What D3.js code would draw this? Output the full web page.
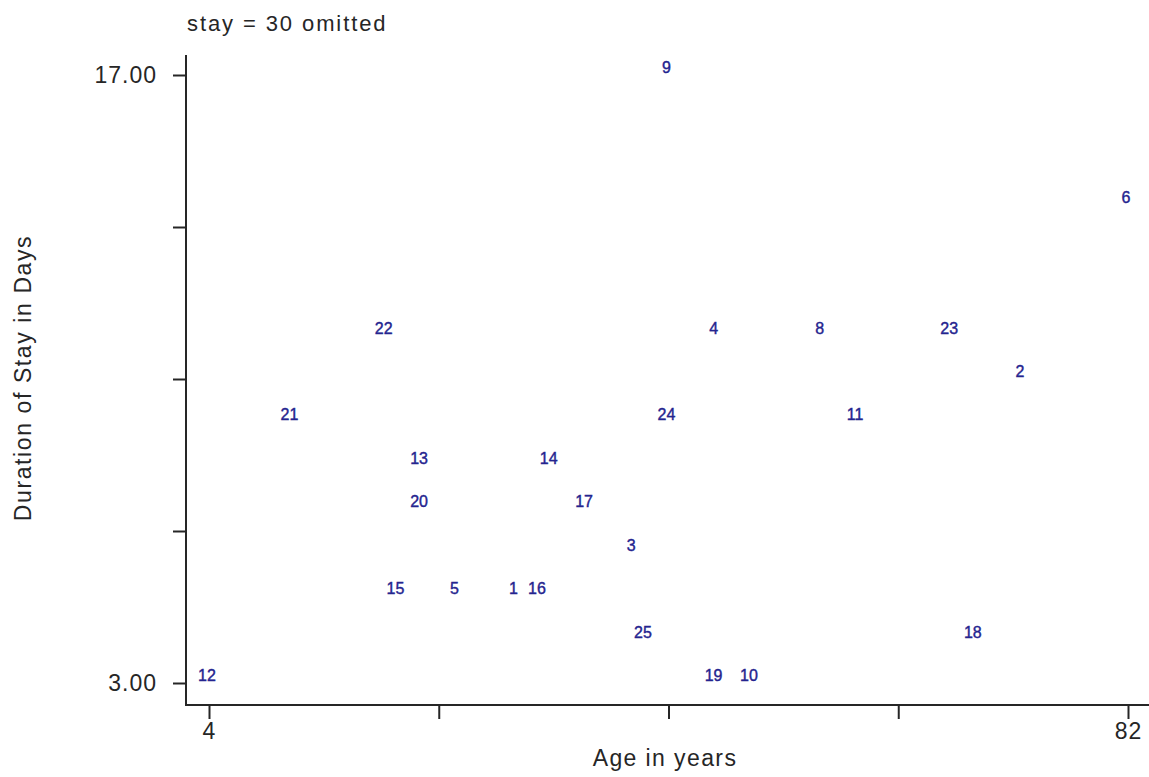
<!DOCTYPE html>
<html>
<head>
<meta charset="utf-8">
<script src="https://cdn.jsdelivr.net/npm/d3@7"></script>
<style>
  body { margin: 0; background: #fff; }
  text { font-family: "Liberation Sans", Arial, sans-serif; }
</style>
</head>
<body>
<div id="chart"></div>
<script>
// hospital data, id labels plotted at (age, stay)
var ids   = [1, 2, 3, 4, 5, 6, 8, 9, 10, 11, 12, 13, 14, 15, 16, 17, 18, 19, 20, 21, 22, 23, 24, 25];
var ages  = [30, 73, 40, 47, 25, 82, 56, 43, 50, 59, 4, 22, 33, 20, 32, 36, 69, 47, 22, 11, 19, 67, 43, 41];
var stays = [5, 10, 6, 11, 5, 14, 11, 17, 3, 9, 3, 8, 8, 5, 5, 7, 4, 3, 7, 9, 11, 11, 9, 4];

var xTicks = [4, 23.5, 43, 62.5, 82];
var yTicks = [3, 6.5, 10, 13.5, 17];
var xTickLabels = {4: "4", 82: "82"};
var yTickLabels = {3: "3.00", 17: "17.00"};

var W = 1149, H = 777;
var axisColor = "#262626";
var labelColor = "#24248f";

var svg = d3.select("#chart").append("svg")
    .attr("width", W)
    .attr("height", H);

var x = d3.scaleLinear().domain([4, 82]).range([209, 1128]);
var y = d3.scaleLinear().domain([3, 17]).range([683, 75]);

var axisX = 186, axisY = 705;

// axis lines (extend past the data range like the original)
svg.append("line")
    .attr("x1", axisX).attr("x2", axisX)
    .attr("y1", 55).attr("y2", axisY)
    .attr("stroke", axisColor).attr("stroke-width", 2);
svg.append("line")
    .attr("x1", axisX - 1).attr("x2", W)
    .attr("y1", axisY).attr("y2", axisY)
    .attr("stroke", axisColor).attr("stroke-width", 2);

var gx = svg.append("g")
    .attr("transform", "translate(0," + axisY + ")")
    .call(d3.axisBottom(x).tickValues(xTicks).tickSize(14).tickPadding(0)
        .tickFormat(function(d) { return xTickLabels[d] || ""; }));
gx.select(".domain").remove();
gx.selectAll(".tick line").attr("stroke", axisColor).attr("stroke-width", 2);
gx.selectAll(".tick text")
    .attr("fill", axisColor)
    .attr("font-size", 23)
    .attr("letter-spacing", 1)
    .attr("font-family", "Liberation Sans, Arial, sans-serif")
    .attr("dy", "0.71em")
    .attr("y", 18);

var gy = svg.append("g")
    .attr("transform", "translate(" + axisX + ",0)")
    .call(d3.axisLeft(y).tickValues(yTicks).tickSize(13).tickPadding(16)
        .tickFormat(function(d) { return yTickLabels[d] || ""; }));
gy.select(".domain").remove();
gy.selectAll(".tick line").attr("stroke", axisColor).attr("stroke-width", 2);
gy.selectAll(".tick text")
    .attr("fill", axisColor)
    .attr("font-size", 23)
    .attr("letter-spacing", 1)
    .attr("font-family", "Liberation Sans, Arial, sans-serif");

// point labels
svg.append("g")
    .selectAll("text")
    .data(ids)
    .enter().append("text")
    .attr("x", function(d, i) { return x(ages[i]) - 2; })
    .attr("y", function(d, i) { return y(stays[i]) - 2; })
    .attr("text-anchor", "middle")
    .attr("font-size", 16)
    .attr("fill", labelColor)
    .attr("stroke", labelColor)
    .attr("stroke-width", 0.4)
    .text(function(d) { return d; });

// titles
svg.append("text")
    .attr("x", 187).attr("y", 31)
    .attr("font-size", 22)
    .attr("letter-spacing", 1.9)
    .attr("fill", axisColor)
    .text("stay = 30 omitted");

svg.append("text")
    .attr("x", 665).attr("y", 766)
    .attr("text-anchor", "middle")
    .attr("font-size", 23)
    .attr("letter-spacing", 1.4)
    .attr("fill", axisColor)
    .text("Age in years");

svg.append("text")
    .attr("transform", "translate(31,378) rotate(-90)")
    .attr("text-anchor", "middle")
    .attr("font-size", 23)
    .attr("letter-spacing", 1.6)
    .attr("fill", axisColor)
    .text("Duration of Stay in Days");
</script>
</body>
</html>
